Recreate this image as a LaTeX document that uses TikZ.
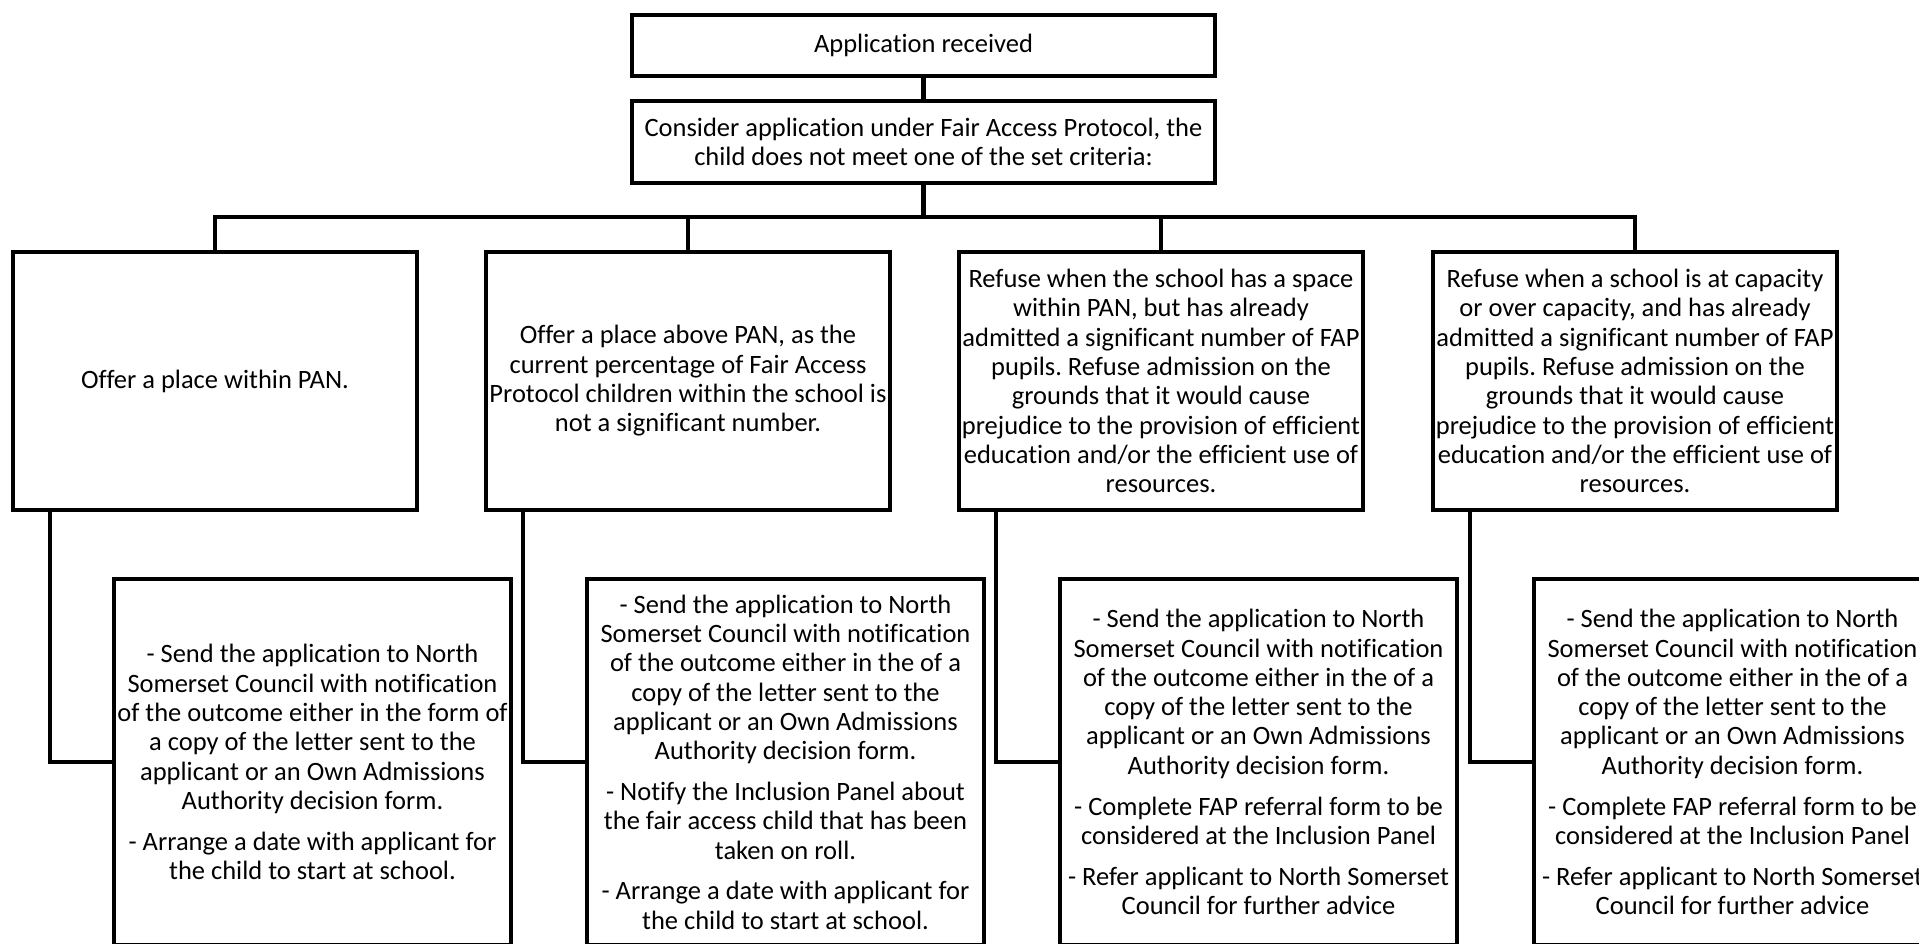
\documentclass[tikz,border=0pt]{standalone}
\usepackage{fontspec}
\setmainfont{Carlito}[Ligatures=NoCommon]
\frenchspacing
\begin{document}
\begin{tikzpicture}[
    x=1pt, y=-1pt,
    % Define styles
    topbox/.style={
        rectangle,
        draw,
        line width=4.5pt,
        minimum width=583pt,
        align=center,
        inner sep=0pt
    },
    optionbox/.style={
        rectangle,
        draw,
        line width=4.5pt,
        minimum width=404pt,
        minimum height=258pt,
        align=center,
        inner sep=0pt
    },
    actionbox/.style={
        rectangle,
        draw,
        line width=4.5pt,
        minimum width=397pt,
        minimum height=366pt,
        align=center,
        inner sep=0pt
    },
    link/.style={
        line width=4.5pt
    },
    font=\fontsize{26.5}{29.3}\selectfont
]

% Page size (pixels of the reference)
\clip (0,0) rectangle (1919,944);

% Variables
\def\midx{923.5}
\def\busy{217}
\def\optiony{381}
\def\actiony{762}
\def\optAx{215}
\def\optBx{688}
\def\optCx{1161}
\def\optDx{1635}
\def\actshift{97.5} % action box right of option box
\def\branchshift{39pt} % branch line inside option box
\def\gap{11.5pt}
\pgfmathsetmacro{\actAx}{\optAx+\actshift}
\pgfmathsetmacro{\actBx}{\optBx+\actshift}
\pgfmathsetmacro{\actCx}{\optCx+\actshift}
\pgfmathsetmacro{\actDx}{\optDx+\actshift}

% Top of the flow
\node[topbox, minimum height=61pt] (received) at (\midx,45.5) {Application received};
\node[topbox, minimum height=82pt] (fap) at (\midx,142) {Consider application under Fair Access Protocol, the\\child does not meet one of the set criteria:};

\draw[link] (received.south) -- (fap.north);

% Four outcomes
\node[optionbox] (opta) at (\optAx,\optiony) {Offer a place within PAN.};
\node[optionbox] (optb) at (\optBx,\optiony) {Offer a place above PAN, as the\\current percentage of Fair Access\\Protocol children within the school is\\not a significant number.};
\node[optionbox] (optc) at (\optCx,\optiony) {Refuse when the school has a space\\within PAN, but has already\\admitted a significant number of FAP\\pupils. Refuse admission on the\\grounds that it would cause\\prejudice to the provision of efficient\\education and/or the efficient use of\\resources.};
\node[optionbox] (optd) at (\optDx,\optiony) {Refuse when a school is at capacity\\or over capacity, and has already\\admitted a significant number of FAP\\pupils. Refuse admission on the\\grounds that it would cause\\prejudice to the provision of efficient\\education and/or the efficient use of\\resources.};

% Bus line
\coordinate (bus) at (\midx,\busy);
\draw[link] (fap.south) -- (bus);
\draw[link] (opta.north) |- (bus);
\draw[link] (optb.north) |- (bus);
\draw[link] (optc.north) |- (bus);
\draw[link] (optd.north) |- (bus);

% Actions
\node[actionbox] (acta) at (\actAx,\actiony) {- Send the application to North\\Somerset Council with notification\\of the outcome either in the form of\\a copy of the letter sent to the\\applicant or an Own Admissions\\Authority decision form.\\[\gap]- Arrange a date with applicant for\\the child to start at school.};
\node[actionbox] (actb) at (\actBx,\actiony) {- Send the application to North\\Somerset Council with notification\\of the outcome either in the of a\\copy of the letter sent to the\\applicant or an Own Admissions\\Authority decision form.\\[\gap]- Notify the Inclusion Panel about\\the fair access child that has been\\taken on roll.\\[\gap]- Arrange a date with applicant for\\the child to start at school.};
\node[actionbox] (actc) at (\actCx,\actiony) {- Send the application to North\\Somerset Council with notification\\of the outcome either in the of a\\copy of the letter sent to the\\applicant or an Own Admissions\\Authority decision form.\\[\gap]- Complete FAP referral form to be\\considered at the Inclusion Panel\\[\gap]- Refer applicant to North Somerset\\Council for further advice};
\node[actionbox] (actd) at (\actDx,\actiony) {- Send the application to North\\Somerset Council with notification\\of the outcome either in the of a\\copy of the letter sent to the\\applicant or an Own Admissions\\Authority decision form.\\[\gap]- Complete FAP referral form to be\\considered at the Inclusion Panel\\[\gap]- Refer applicant to North Somerset\\Council for further advice};

% Branches
\draw[link] ([xshift=\branchshift]opta.south west) |- (acta.west);
\draw[link] ([xshift=\branchshift]optb.south west) |- (actb.west);
\draw[link] ([xshift=\branchshift]optc.south west) |- (actc.west);
\draw[link] ([xshift=\branchshift]optd.south west) |- (actd.west);

\end{tikzpicture}
\end{document}
